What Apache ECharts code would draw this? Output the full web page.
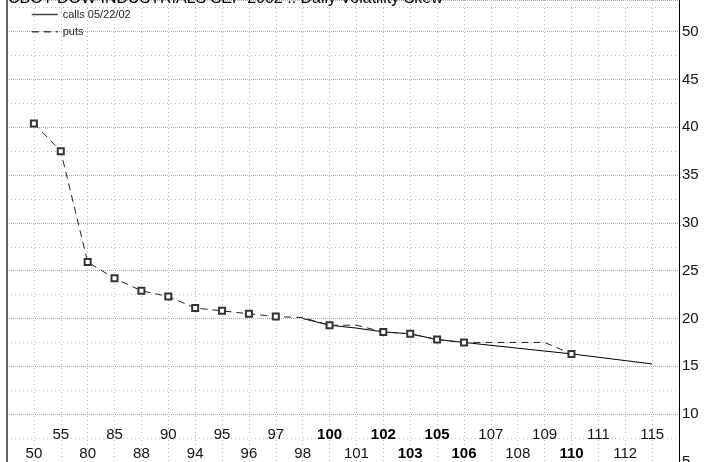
<!DOCTYPE html>
<html>
<head>
<meta charset="utf-8">
<title>Daily Volatility Skew</title>
<script src="https://cdn.jsdelivr.net/npm/echarts@6.0.0/dist/echarts.min.js"></script>
<style>
  html, body { margin: 0; padding: 0; background: #fff; }
  #main { width: 716px; height: 462px; }
</style>
</head>
<body>
<div id="main"></div>
<script>
// strikes along the x axis
var strikes = ['50', '55', '80', '85', '88', '90', '94', '95', '96', '97', '98', '100',
  '101', '102', '103', '105', '106', '107', '108', '109', '110', '111', '112', '115'];
// strikes printed bold
var boldStrikes = ['100', '102', '103', '105', '106', '110'];
// volatility, calls (from 98 on)
var callsVol = [null, null, null, null, null, null, null, null, null, null, 20.0, 19.3,
  19.0, 18.6, 18.4, 17.8, 17.5, 17.2, 16.9, 16.6, 16.3, 15.95, 15.6, 15.25];
// volatility, puts (up to 110)
var putsVol = [40.4, 37.5, 25.9, 24.2, 22.9, 22.3, 21.1, 20.8, 20.5, 20.2, 20.1, 19.3,
  19.3, 18.6, 18.4, 17.8, 17.5, 17.5, 17.5, 17.5, 16.3, null, null, null];
// puts points without a square
var putsNoMarker = ['98', '101', '107', '108', '109'];
var volTicks = [5, 10, 15, 20, 25, 30, 35, 40, 45, 50];

var FONT = 'Liberation Sans, Arial, sans-serif';
var chart = echarts.init(document.getElementById('main'));

function strikeLabel(row) {
  return function (v) {
    var s = strikes[v];
    if (s === undefined || v % 2 !== row) return '';
    return boldStrikes.indexOf(s) >= 0 ? '{b|' + s + '}' : '{n|' + s + '}';
  };
}

function strikeAxis(row, margin, grid) {
  return {
    type: 'value',
    min: -1,
    max: strikes.length,
    interval: 1,
    position: 'bottom',
    axisLine: { show: false },
    axisTick: { show: false },
    splitLine: { show: grid, lineStyle: { color: '#bbb', type: [1, 3] } },
    axisLabel: {
      inside: true,
      margin: margin,
      formatter: strikeLabel(row),
      rich: {
        n: { fontSize: 15, color: '#111', fontFamily: FONT },
        b: { fontSize: 15, color: '#000', fontWeight: 'bold', fontFamily: FONT }
      }
    }
  };
}

var callsData = [];
var putsData = [];
strikes.forEach(function (s, i) {
  if (callsVol[i] != null) callsData.push([i, callsVol[i]]);
  if (putsVol[i] != null) {
    putsData.push({
      value: [i, putsVol[i]],
      symbol: putsNoMarker.indexOf(s) >= 0 ? 'none' : 'emptyRect'
    });
  }
});

chart.setOption({
  animation: false,
  backgroundColor: '#fff',
  textStyle: { fontFamily: FONT },
  title: {
    text: 'CBOT DOW INDUSTRIALS SEP 2002 :: Daily Volatility Skew',
    left: 8,
    top: -9,
    padding: 0,
    textStyle: { fontSize: 16, fontWeight: 'normal', color: '#000', fontFamily: FONT }
  },
  legend: {
    orient: 'vertical',
    left: 31,
    top: 9,
    padding: 0,
    itemGap: 6,
    itemWidth: 26,
    itemHeight: 12,
    itemStyle: { opacity: 0 },
    lineStyle: { width: 1.5, color: '#444' },
    textStyle: { fontSize: 11, color: '#222', fontFamily: FONT },
    data: ['calls 05/22/02', 'puts']
  },
  grid: { left: 7, right: 37, top: 0, bottom: 0, outerBoundsMode: 'none' },
  xAxis: [strikeAxis(0, 1, true), strikeAxis(1, 20, false)],
  yAxis: [{
    type: 'value',
    position: 'right',
    min: 5,
    max: 53.3,
    interval: 5,
    axisLine: { show: true, onZero: false, lineStyle: { color: '#000', width: 1 } },
    axisTick: { show: false },
    axisLabel: {
      margin: 3,
      fontSize: 15,
      color: '#111',
      formatter: function (v) { return volTicks.indexOf(v) >= 0 ? String(v) : ''; }
    },
    splitLine: { show: true, lineStyle: { color: '#aaa', type: [1, 1] } },
    minorTick: { show: false, splitNumber: 2 },
    minorSplitLine: { show: true, lineStyle: { color: '#bbb', type: [1, 3] } }
  }, {
    type: 'value',
    position: 'left',
    min: 5,
    max: 53.3,
    axisLine: { show: true, onZero: false, lineStyle: { color: '#666', width: 2 } },
    axisTick: { show: false },
    axisLabel: { show: false },
    splitLine: { show: false }
  }],
  series: [{
    name: 'calls 05/22/02',
    type: 'line',
    xAxisIndex: 0,
    yAxisIndex: 0,
    data: callsData,
    symbol: 'none',
    lineStyle: { color: '#000', width: 1 },
    itemStyle: { color: '#000' }
  }, {
    name: 'puts',
    type: 'line',
    xAxisIndex: 0,
    yAxisIndex: 0,
    data: putsData,
    symbolSize: 6,
    lineStyle: { color: '#222', width: 1, type: [7, 5] },
    itemStyle: { color: '#333', borderWidth: 1 }
  }]
});
</script>
</body>
</html>
